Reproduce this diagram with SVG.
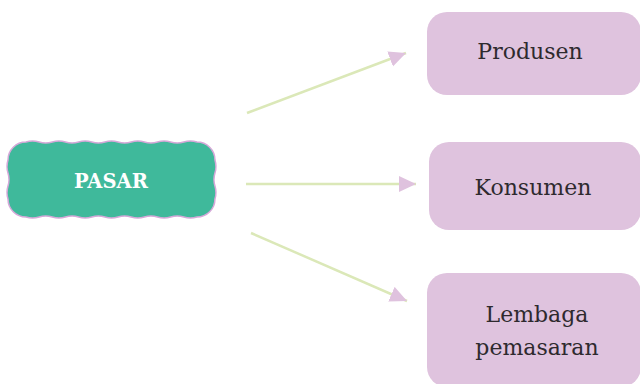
<svg xmlns="http://www.w3.org/2000/svg" width="640" height="384" viewBox="0 0 640 384">
<style>
.box{fill:#dfc3de}
.lbl{font-family:"DejaVu Serif","Liberation Serif",serif;font-size:22px;fill:#2e2a2e;text-anchor:middle}
.conn{stroke:#dbe8b8;stroke-width:2.5;fill:none}
</style>
<defs>
<marker id="ah" markerUnits="userSpaceOnUse" markerWidth="20" markerHeight="18" refX="17" refY="8" orient="auto">
<path d="M0,0 L17,8 L0,16 Z" fill="#dfc2de"/>
</marker>
</defs>
<rect width="640" height="384" fill="#fff"/>
<g id="connectors">
<line class="conn" x1="247" y1="113" x2="406" y2="53" marker-end="url(#ah)"/>
<line class="conn" x1="246" y1="184" x2="416" y2="184" marker-end="url(#ah)"/>
<line class="conn" x1="251" y1="233" x2="407" y2="301" marker-end="url(#ah)"/>
</g>
<g id="pasar">
<path d="M26,142 q6.575,-2 13.15,0 t13.15,0 t13.15,0 t13.15,0 t13.15,0 t13.15,0 t13.15,0 t13.15,0 t13.15,0 t13.15,0 t13.15,0 t13.15,0 t13.15,0 a18,18 0 0 1 18,18 q2,6.5 0,13 t0,13 t0,13 a18,18 0 0 1 -18,18 q-6.575,2 -13.15,0 t-13.15,0 t-13.15,0 t-13.15,0 t-13.15,0 t-13.15,0 t-13.15,0 t-13.15,0 t-13.15,0 t-13.15,0 t-13.15,0 t-13.15,0 t-13.15,0 a18,18 0 0 1 -18,-18 q-2,-6.5 0,-13 t0,-13 t0,-13 a18,18 0 0 1 18,-18 Z" fill="#3fb99b" stroke="#d5a8d8" stroke-width="1.5"/>
<text x="111" y="188" font-family="'DejaVu Serif','Liberation Serif',serif" font-size="19.5" font-weight="bold" fill="#fff" text-anchor="middle">PASAR</text>
</g>
<g id="produsen">
<rect class="box" x="427" y="12" width="214" height="83" rx="20"/>
<text class="lbl" x="530" y="59">Produsen</text>
</g>
<g id="konsumen">
<rect class="box" x="429" y="142" width="212" height="88" rx="20"/>
<text class="lbl" x="533" y="195">Konsumen</text>
</g>
<g id="lembaga">
<rect class="box" x="427" y="273" width="214" height="114" rx="20"/>
<text class="lbl" x="537" y="322">Lembaga</text>
<text class="lbl" x="537" y="355">pemasaran</text>
</g>
</svg>
